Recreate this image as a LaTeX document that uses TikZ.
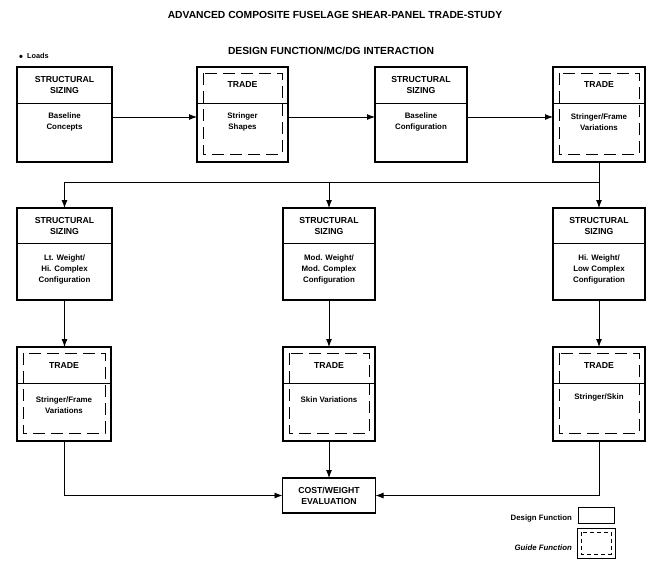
\documentclass[tikz,border=0pt]{standalone}
\usepackage{fontspec}
\setmainfont{Liberation Sans}
\usetikzlibrary{arrows.meta,calc}

\tikzset{
  boxframe/.style={draw, rectangle, line width=1.2pt, inner sep=0pt, outer sep=0pt},
  divider/.style={line width=1pt},
  guideline/.style={line width=1pt, dash pattern=on 12pt off 6pt},
  hdr/.style={font=\bfseries\fontsize{8.7}{11}\selectfont, align=center, inner sep=0pt},
  bodytxt/.style={font=\bfseries\fontsize{7.9}{11}\selectfont, align=center, inner sep=0pt},
  titletxt/.style={font=\bfseries\fontsize{10.3}{12}\selectfont, inner sep=0pt},
  legendtxt/.style={font=\bfseries\fontsize{7.8}{9}\selectfont, inner sep=0pt, anchor=east},
  link/.style={line width=0.9pt},
  flow/.style={link, -{Latex[length=8pt,width=6pt]}},
}

% panel: name, left, right, top, divider, bottom, header, body, body top
\newcommand\panel[9]{%
  \node[boxframe, anchor=north west,
        minimum width={(#3-#2)*1pt}, minimum height={(#6-#4)*1pt}] (#1) at (#2,#4) {};
  \coordinate (#1-d) at (#2,#5);
  \draw[divider] (#1-d) -- (#1.east |- #1-d);
  \node[hdr] (#1-h) at ({(#2+#3)/2},{(#4+#5)/2}) {#7};
  \node[bodytxt, anchor=north] (#1-b) at ({(#2+#3)/2},#9) {#8};
}
% dashed inner outline of a guide function panel
\newcommand\guideoutline[1]{%
  \draw[guideline] ($(#1.north west)+(6,6)$) rectangle ($(#1.south east)+(-6,-8)$);
}

\begin{document}
\begin{tikzpicture}[x=1pt,y=-1pt]
\useasboundingbox (0,0) rectangle (647,560);

% headings
\node[titletxt] (title) at (335,15) {ADVANCED COMPOSITE FUSELAGE SHEAR-PANEL TRADE-STUDY};
\node[titletxt] (subtitle) at (331,51) {DESIGN FUNCTION/MC/DG INTERACTION};
\node[font=\bfseries\fontsize{7.3}{8}\selectfont, inner sep=0pt, anchor=west] (loads) at (19,57)
  {\raisebox{-1.4pt}{\fontsize{11}{8}\selectfont\textbullet}\ \ Loads};

% first row
\panel{b1}{17}{112}{67}{103}{162}{STRUCTURAL\\SIZING}{Baseline\\Concepts}{113}
\panel{b2}{197}{288}{67}{103}{162}{TRADE}{Stringer\\Shapes}{113}
\guideoutline{b2}
\panel{b3}{375}{467}{67}{103}{162}{STRUCTURAL\\SIZING}{Baseline\\Configuration}{113}
\panel{b4}{553}{645}{67}{103}{162}{TRADE}{Stringer/Frame\\Variations}{114}
\guideoutline{b4}

% second row
\panel{c1}{17}{112}{208}{243}{300}{STRUCTURAL\\SIZING}{Lt. Weight/\\Hi. Complex\\Configuration}{255}
\panel{c2}{283}{375}{208}{243}{300}{STRUCTURAL\\SIZING}{Mod. Weight/\\Mod. Complex\\Configuration}{255}
\panel{c3}{553}{645}{208}{243}{300}{STRUCTURAL\\SIZING}{Hi. Weight/\\Low Complex\\Configuration}{255}

% third row
\panel{d1}{17}{111}{347}{383}{441}{TRADE}{Stringer/Frame\\Variations}{397}
\guideoutline{d1}
\panel{d2}{283}{375}{347}{383}{441}{TRADE}{Skin Variations}{397}
\guideoutline{d2}
\panel{d3}{553}{645}{347}{383}{441}{TRADE}{Stringer/Skin}{394}
\guideoutline{d3}

% evaluation
\node[boxframe, hdr, minimum width=93pt, minimum height=35pt] (cw) at (329,495.5) {COST/WEIGHT\\EVALUATION};

% first row flow
\coordinate (r1) at (0,117);
\draw[flow] (b1.east |- r1) -- (b2.west |- r1);
\draw[flow] (b2.east |- r1) -- (b3.west |- r1);
\draw[flow] (b3.east |- r1) -- (b4.west |- r1);

% distribution to the three sizing panels
\coordinate (split) at (0,182);
\draw[flow] (b4.south) -- (c3.north);
\draw[flow] (b4.south |- split) -| (c1.north);
\draw[flow] (c2.north |- split) -- (c2.north);

% sizing to trade
\draw[flow] (c1.south) -- (c1.south |- d1.north);
\draw[flow] (c2.south) -- (d2.north);
\draw[flow] (c3.south) -- (d3.north);

% trade to evaluation
\draw[flow] (d1.south) |- (cw.west);
\draw[flow] (d2.south) -- (d2.south |- cw.north);
\draw[flow] (d3.south) |- (cw.east);

% legend
\node[boxframe, line width=1pt, anchor=north west, minimum width=36pt, minimum height=16pt] (ld) at (578,507) {};
\node[legendtxt] (ldt) at (572,518) {Design Function};
\node[boxframe, line width=1pt, anchor=north west, minimum width=38pt, minimum height=30pt] (lg) at (577,528) {};
\draw[line width=0.9pt, dash pattern=on 4pt off 3pt] ($(lg.north west)+(4,4)$) rectangle ($(lg.south east)+(-4,-4)$);
\node[legendtxt, font=\bfseries\itshape\fontsize{7.8}{9}\selectfont] (lgt) at (572,548) {Guide Function};
\end{tikzpicture}
\end{document}
